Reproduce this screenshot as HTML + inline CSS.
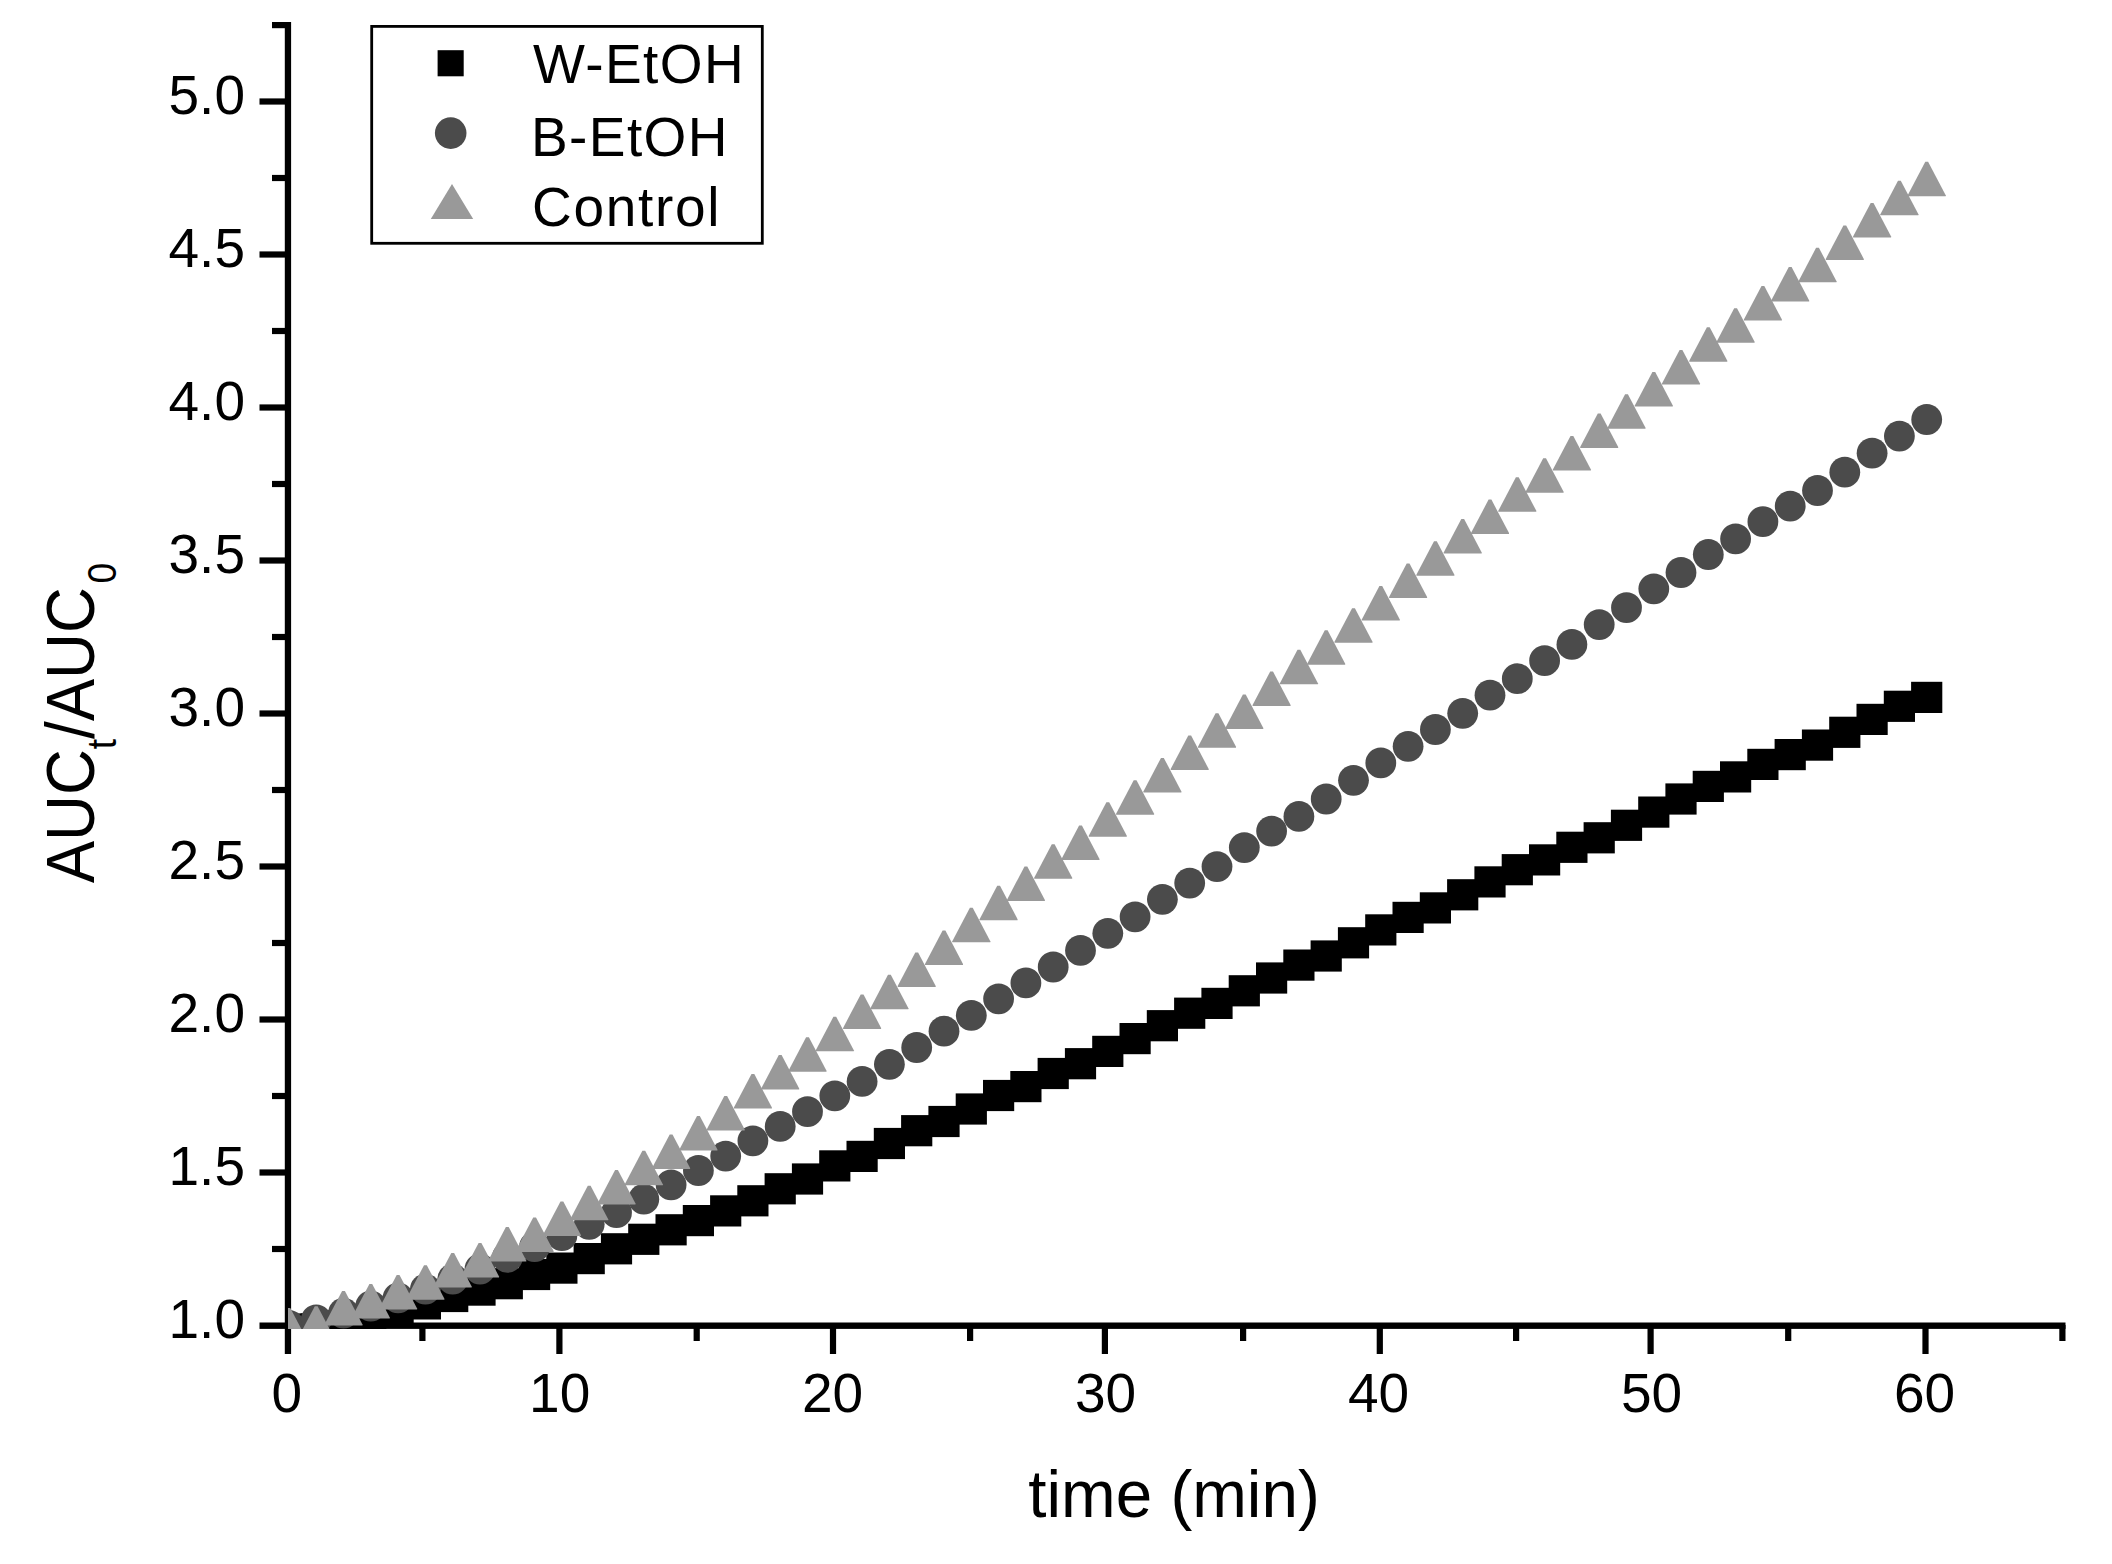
<!DOCTYPE html>
<html lang="en"><head><meta charset="utf-8"><title>AUC ratio vs time</title>
<style>html,body{margin:0;padding:0;background:#fff}body{width:2112px;height:1564px;overflow:hidden}svg{display:block}text{font-family:"Liberation Sans",Arial,sans-serif;fill:#000}</style>
</head><body>
<svg width="2112" height="1564" viewBox="0 0 2112 1564">
<rect width="2112" height="1564" fill="#fff"/>
<defs><clipPath id="plot"><rect x="287.9" y="0" width="1830" height="1329"/></clipPath></defs>
<g fill="#000">
<rect x="284.8" y="22" width="6.3" height="1332"/>
<rect x="259.5" y="1322.5" width="1806" height="6.4"/>
<rect x="259.5" y="1169.4" width="27" height="6.2"/>
<rect x="259.5" y="1016.4" width="27" height="6.2"/>
<rect x="259.5" y="863.4" width="27" height="6.2"/>
<rect x="259.5" y="710.4" width="27" height="6.2"/>
<rect x="259.5" y="557.4" width="27" height="6.2"/>
<rect x="259.5" y="404.4" width="27" height="6.2"/>
<rect x="259.5" y="251.4" width="27" height="6.2"/>
<rect x="259.5" y="98.4" width="27" height="6.2"/>
<rect x="272" y="1245.9" width="15" height="6.2"/>
<rect x="272" y="1092.9" width="15" height="6.2"/>
<rect x="272" y="939.9" width="15" height="6.2"/>
<rect x="272" y="786.9" width="15" height="6.2"/>
<rect x="272" y="633.9" width="15" height="6.2"/>
<rect x="272" y="480.9" width="15" height="6.2"/>
<rect x="272" y="327.9" width="15" height="6.2"/>
<rect x="272" y="174.9" width="15" height="6.2"/>
<rect x="272" y="22" width="15" height="6.2"/>
<rect x="556.3" y="1325" width="6.2" height="29"/>
<rect x="829.9" y="1325" width="6.2" height="29"/>
<rect x="1101.8" y="1325" width="6.2" height="29"/>
<rect x="1376.7" y="1325" width="6.2" height="29"/>
<rect x="1647.5" y="1325" width="6.2" height="29"/>
<rect x="1922.4" y="1325" width="6.2" height="29"/>
<rect x="419.3" y="1325" width="6.2" height="16"/>
<rect x="693.6" y="1325" width="6.2" height="16"/>
<rect x="967.0" y="1325" width="6.2" height="16"/>
<rect x="1240.0" y="1325" width="6.2" height="16"/>
<rect x="1513.0" y="1325" width="6.2" height="16"/>
<rect x="1785.1" y="1325" width="6.2" height="16"/>
<rect x="2059.3" y="1325" width="6.2" height="16"/>
</g>
<g clip-path="url(#plot)">
<g fill="#000">
<rect x="273.3" y="1313.4" width="31.2" height="31.2"/>
<rect x="300.6" y="1313.4" width="31.2" height="31.2"/>
<rect x="327.9" y="1310.3" width="31.2" height="31.2"/>
<rect x="355.2" y="1303.6" width="31.2" height="31.2"/>
<rect x="382.5" y="1295.6" width="31.2" height="31.2"/>
<rect x="409.8" y="1288.3" width="31.2" height="31.2"/>
<rect x="437.1" y="1280.9" width="31.2" height="31.2"/>
<rect x="464.4" y="1274.5" width="31.2" height="31.2"/>
<rect x="491.7" y="1268.1" width="31.2" height="31.2"/>
<rect x="519.0" y="1258.9" width="31.2" height="31.2"/>
<rect x="546.3" y="1252.5" width="31.2" height="31.2"/>
<rect x="573.6" y="1243.0" width="31.2" height="31.2"/>
<rect x="600.9" y="1233.2" width="31.2" height="31.2"/>
<rect x="628.2" y="1223.7" width="31.2" height="31.2"/>
<rect x="655.5" y="1214.2" width="31.2" height="31.2"/>
<rect x="682.8" y="1205.0" width="31.2" height="31.2"/>
<rect x="710.1" y="1195.3" width="31.2" height="31.2"/>
<rect x="737.3" y="1185.2" width="31.2" height="31.2"/>
<rect x="764.6" y="1173.2" width="31.2" height="31.2"/>
<rect x="791.9" y="1163.4" width="31.2" height="31.2"/>
<rect x="819.2" y="1150.3" width="31.2" height="31.2"/>
<rect x="846.5" y="1140.8" width="31.2" height="31.2"/>
<rect x="873.8" y="1127.9" width="31.2" height="31.2"/>
<rect x="901.1" y="1115.1" width="31.2" height="31.2"/>
<rect x="928.4" y="1105.9" width="31.2" height="31.2"/>
<rect x="955.7" y="1093.4" width="31.2" height="31.2"/>
<rect x="983.0" y="1079.9" width="31.2" height="31.2"/>
<rect x="1010.3" y="1071.0" width="31.2" height="31.2"/>
<rect x="1037.6" y="1057.9" width="31.2" height="31.2"/>
<rect x="1064.9" y="1048.1" width="31.2" height="31.2"/>
<rect x="1092.2" y="1035.8" width="31.2" height="31.2"/>
<rect x="1119.5" y="1023.0" width="31.2" height="31.2"/>
<rect x="1146.8" y="1010.1" width="31.2" height="31.2"/>
<rect x="1174.1" y="997.6" width="31.2" height="31.2"/>
<rect x="1201.4" y="987.8" width="31.2" height="31.2"/>
<rect x="1228.7" y="975.2" width="31.2" height="31.2"/>
<rect x="1256.0" y="962.4" width="31.2" height="31.2"/>
<rect x="1283.3" y="949.5" width="31.2" height="31.2"/>
<rect x="1310.6" y="940.4" width="31.2" height="31.2"/>
<rect x="1337.9" y="927.2" width="31.2" height="31.2"/>
<rect x="1365.2" y="914.3" width="31.2" height="31.2"/>
<rect x="1392.5" y="901.8" width="31.2" height="31.2"/>
<rect x="1419.8" y="892.3" width="31.2" height="31.2"/>
<rect x="1447.1" y="879.2" width="31.2" height="31.2"/>
<rect x="1474.4" y="866.3" width="31.2" height="31.2"/>
<rect x="1501.7" y="854.1" width="31.2" height="31.2"/>
<rect x="1529.0" y="844.3" width="31.2" height="31.2"/>
<rect x="1556.3" y="831.7" width="31.2" height="31.2"/>
<rect x="1583.6" y="822.2" width="31.2" height="31.2"/>
<rect x="1610.9" y="809.7" width="31.2" height="31.2"/>
<rect x="1638.2" y="796.5" width="31.2" height="31.2"/>
<rect x="1665.4" y="783.4" width="31.2" height="31.2"/>
<rect x="1692.7" y="770.8" width="31.2" height="31.2"/>
<rect x="1720.0" y="761.3" width="31.2" height="31.2"/>
<rect x="1747.3" y="748.8" width="31.2" height="31.2"/>
<rect x="1774.6" y="739.0" width="31.2" height="31.2"/>
<rect x="1801.9" y="729.5" width="31.2" height="31.2"/>
<rect x="1829.2" y="716.7" width="31.2" height="31.2"/>
<rect x="1856.5" y="703.8" width="31.2" height="31.2"/>
<rect x="1883.8" y="690.7" width="31.2" height="31.2"/>
<rect x="1911.1" y="681.8" width="31.2" height="31.2"/>
</g>
<g fill="#4b4b4b">
<circle cx="288.9" cy="1325.3" r="15.4"/>
<circle cx="316.2" cy="1319.8" r="15.4"/>
<circle cx="343.5" cy="1313.1" r="15.4"/>
<circle cx="370.8" cy="1306.0" r="15.4"/>
<circle cx="398.1" cy="1297.8" r="15.4"/>
<circle cx="425.4" cy="1289.2" r="15.4"/>
<circle cx="452.7" cy="1279.1" r="15.4"/>
<circle cx="480.0" cy="1269.0" r="15.4"/>
<circle cx="507.3" cy="1257.4" r="15.4"/>
<circle cx="534.6" cy="1246.7" r="15.4"/>
<circle cx="561.9" cy="1235.6" r="15.4"/>
<circle cx="589.2" cy="1224.3" r="15.4"/>
<circle cx="616.5" cy="1212.7" r="15.4"/>
<circle cx="643.8" cy="1199.2" r="15.4"/>
<circle cx="671.1" cy="1184.8" r="15.4"/>
<circle cx="698.4" cy="1170.5" r="15.4"/>
<circle cx="725.7" cy="1156.1" r="15.4"/>
<circle cx="752.9" cy="1140.8" r="15.4"/>
<circle cx="780.2" cy="1126.4" r="15.4"/>
<circle cx="807.5" cy="1111.7" r="15.4"/>
<circle cx="834.8" cy="1095.8" r="15.4"/>
<circle cx="862.1" cy="1081.4" r="15.4"/>
<circle cx="889.4" cy="1064.3" r="15.4"/>
<circle cx="916.7" cy="1047.5" r="15.4"/>
<circle cx="944.0" cy="1031.2" r="15.4"/>
<circle cx="971.3" cy="1015.3" r="15.4"/>
<circle cx="998.6" cy="998.8" r="15.4"/>
<circle cx="1025.9" cy="982.9" r="15.4"/>
<circle cx="1053.2" cy="967.0" r="15.4"/>
<circle cx="1080.5" cy="950.4" r="15.4"/>
<circle cx="1107.8" cy="933.3" r="15.4"/>
<circle cx="1135.1" cy="916.8" r="15.4"/>
<circle cx="1162.4" cy="899.3" r="15.4"/>
<circle cx="1189.7" cy="883.1" r="15.4"/>
<circle cx="1217.0" cy="866.6" r="15.4"/>
<circle cx="1244.3" cy="847.6" r="15.4"/>
<circle cx="1271.6" cy="831.1" r="15.4"/>
<circle cx="1298.9" cy="816.4" r="15.4"/>
<circle cx="1326.2" cy="799.0" r="15.4"/>
<circle cx="1353.5" cy="780.3" r="15.4"/>
<circle cx="1380.8" cy="762.9" r="15.4"/>
<circle cx="1408.1" cy="746.3" r="15.4"/>
<circle cx="1435.4" cy="729.5" r="15.4"/>
<circle cx="1462.7" cy="713.3" r="15.4"/>
<circle cx="1490.0" cy="695.2" r="15.4"/>
<circle cx="1517.3" cy="678.7" r="15.4"/>
<circle cx="1544.6" cy="660.7" r="15.4"/>
<circle cx="1571.9" cy="644.4" r="15.4"/>
<circle cx="1599.2" cy="624.6" r="15.4"/>
<circle cx="1626.5" cy="607.7" r="15.4"/>
<circle cx="1653.8" cy="588.8" r="15.4"/>
<circle cx="1681.0" cy="572.5" r="15.4"/>
<circle cx="1708.3" cy="554.5" r="15.4"/>
<circle cx="1735.6" cy="538.9" r="15.4"/>
<circle cx="1762.9" cy="521.7" r="15.4"/>
<circle cx="1790.2" cy="506.1" r="15.4"/>
<circle cx="1817.5" cy="490.5" r="15.4"/>
<circle cx="1844.8" cy="472.2" r="15.4"/>
<circle cx="1872.1" cy="453.2" r="15.4"/>
<circle cx="1899.4" cy="436.1" r="15.4"/>
<circle cx="1926.7" cy="419.5" r="15.4"/>
</g>
<g fill="#999">
<polygon points="287.5,1308.0 290.3,1308.0 307.9,1341.5 307.9,1342.5 269.9,1342.5 269.9,1341.5"/>
<polygon points="314.8,1306.2 317.6,1306.2 335.2,1339.7 335.2,1340.7 297.2,1340.7 297.2,1339.7"/>
<polygon points="342.1,1290.9 344.9,1290.9 362.5,1324.4 362.5,1325.4 324.5,1325.4 324.5,1324.4"/>
<polygon points="369.4,1283.9 372.2,1283.9 389.8,1317.4 389.8,1318.4 351.8,1318.4 351.8,1317.4"/>
<polygon points="396.7,1275.0 399.5,1275.0 417.1,1308.5 417.1,1309.5 379.1,1309.5 379.1,1308.5"/>
<polygon points="424.0,1265.2 426.8,1265.2 444.4,1298.7 444.4,1299.7 406.4,1299.7 406.4,1298.7"/>
<polygon points="451.3,1253.0 454.1,1253.0 471.7,1286.5 471.7,1287.5 433.7,1287.5 433.7,1286.5"/>
<polygon points="478.6,1242.9 481.4,1242.9 499.0,1276.4 499.0,1277.4 461.0,1277.4 461.0,1276.4"/>
<polygon points="505.9,1227.0 508.7,1227.0 526.3,1260.5 526.3,1261.5 488.3,1261.5 488.3,1260.5"/>
<polygon points="533.2,1217.5 536.0,1217.5 553.6,1251.0 553.6,1252.0 515.6,1252.0 515.6,1251.0"/>
<polygon points="560.5,1201.6 563.3,1201.6 580.9,1235.1 580.9,1236.1 542.9,1236.1 542.9,1235.1"/>
<polygon points="587.8,1185.7 590.6,1185.7 608.2,1219.2 608.2,1220.2 570.2,1220.2 570.2,1219.2"/>
<polygon points="615.1,1170.0 617.9,1170.0 635.5,1203.5 635.5,1204.5 597.5,1204.5 597.5,1203.5"/>
<polygon points="642.4,1150.8 645.2,1150.8 662.8,1184.3 662.8,1185.3 624.8,1185.3 624.8,1184.3"/>
<polygon points="669.7,1134.5 672.5,1134.5 690.1,1168.0 690.1,1169.0 652.1,1169.0 652.1,1168.0"/>
<polygon points="697.0,1115.9 699.8,1115.9 717.4,1149.4 717.4,1150.4 679.4,1150.4 679.4,1149.4"/>
<polygon points="724.3,1096.0 727.1,1096.0 744.7,1129.5 744.7,1130.5 706.7,1130.5 706.7,1129.5"/>
<polygon points="751.5,1074.0 754.3,1074.0 771.9,1107.5 771.9,1108.5 733.9,1108.5 733.9,1107.5"/>
<polygon points="778.8,1055.0 781.6,1055.0 799.2,1088.5 799.2,1089.5 761.2,1089.5 761.2,1088.5"/>
<polygon points="806.1,1037.2 808.9,1037.2 826.5,1070.7 826.5,1071.7 788.5,1071.7 788.5,1070.7"/>
<polygon points="833.4,1016.7 836.2,1016.7 853.8,1050.2 853.8,1051.2 815.8,1051.2 815.8,1050.2"/>
<polygon points="860.7,994.4 863.5,994.4 881.1,1027.9 881.1,1028.9 843.1,1028.9 843.1,1027.9"/>
<polygon points="888.0,974.8 890.8,974.8 908.4,1008.3 908.4,1009.3 870.4,1009.3 870.4,1008.3"/>
<polygon points="915.3,952.5 918.1,952.5 935.7,986.0 935.7,987.0 897.7,987.0 897.7,986.0"/>
<polygon points="942.6,930.4 945.4,930.4 963.0,963.9 963.0,964.9 925.0,964.9 925.0,963.9"/>
<polygon points="969.9,907.8 972.7,907.8 990.3,941.3 990.3,942.3 952.3,942.3 952.3,941.3"/>
<polygon points="997.2,885.8 1000.0,885.8 1017.6,919.3 1017.6,920.3 979.6,920.3 979.6,919.3"/>
<polygon points="1024.5,866.5 1027.3,866.5 1044.9,900.0 1044.9,901.0 1006.9,901.0 1006.9,900.0"/>
<polygon points="1051.8,844.2 1054.6,844.2 1072.2,877.7 1072.2,878.7 1034.2,878.7 1034.2,877.7"/>
<polygon points="1079.1,825.5 1081.9,825.5 1099.5,859.0 1099.5,860.0 1061.5,860.0 1061.5,859.0"/>
<polygon points="1106.4,802.2 1109.2,802.2 1126.8,835.7 1126.8,836.7 1088.8,836.7 1088.8,835.7"/>
<polygon points="1133.7,780.2 1136.5,780.2 1154.1,813.7 1154.1,814.7 1116.1,814.7 1116.1,813.7"/>
<polygon points="1161.0,757.9 1163.8,757.9 1181.4,791.4 1181.4,792.4 1143.4,792.4 1143.4,791.4"/>
<polygon points="1188.3,735.5 1191.1,735.5 1208.7,769.0 1208.7,770.0 1170.7,770.0 1170.7,769.0"/>
<polygon points="1215.6,713.2 1218.4,713.2 1236.0,746.7 1236.0,747.7 1198.0,747.7 1198.0,746.7"/>
<polygon points="1242.9,694.5 1245.7,694.5 1263.3,728.0 1263.3,729.0 1225.3,729.0 1225.3,728.0"/>
<polygon points="1270.2,671.6 1273.0,671.6 1290.6,705.1 1290.6,706.1 1252.6,706.1 1252.6,705.1"/>
<polygon points="1297.5,649.8 1300.3,649.8 1317.9,683.3 1317.9,684.3 1279.9,684.3 1279.9,683.3"/>
<polygon points="1324.8,630.3 1327.6,630.3 1345.2,663.8 1345.2,664.8 1307.2,664.8 1307.2,663.8"/>
<polygon points="1352.1,608.2 1354.9,608.2 1372.5,641.7 1372.5,642.7 1334.5,642.7 1334.5,641.7"/>
<polygon points="1379.4,585.9 1382.2,585.9 1399.8,619.4 1399.8,620.4 1361.8,620.4 1361.8,619.4"/>
<polygon points="1406.7,563.6 1409.5,563.6 1427.1,597.1 1427.1,598.1 1389.1,598.1 1389.1,597.1"/>
<polygon points="1434.0,541.2 1436.8,541.2 1454.4,574.7 1454.4,575.7 1416.4,575.7 1416.4,574.7"/>
<polygon points="1461.3,518.9 1464.1,518.9 1481.7,552.4 1481.7,553.4 1443.7,553.4 1443.7,552.4"/>
<polygon points="1488.6,499.6 1491.4,499.6 1509.0,533.1 1509.0,534.1 1471.0,534.1 1471.0,533.1"/>
<polygon points="1515.9,477.3 1518.7,477.3 1536.3,510.8 1536.3,511.8 1498.3,511.8 1498.3,510.8"/>
<polygon points="1543.2,458.3 1546.0,458.3 1563.6,491.8 1563.6,492.8 1525.6,492.8 1525.6,491.8"/>
<polygon points="1570.5,435.9 1573.3,435.9 1590.9,469.4 1590.9,470.4 1552.9,470.4 1552.9,469.4"/>
<polygon points="1597.8,413.6 1600.6,413.6 1618.2,447.1 1618.2,448.1 1580.2,448.1 1580.2,447.1"/>
<polygon points="1625.1,394.3 1627.9,394.3 1645.5,427.8 1645.5,428.8 1607.5,428.8 1607.5,427.8"/>
<polygon points="1652.4,372.0 1655.2,372.0 1672.8,405.5 1672.8,406.5 1634.8,406.5 1634.8,405.5"/>
<polygon points="1679.6,350.0 1682.4,350.0 1700.0,383.5 1700.0,384.5 1662.0,384.5 1662.0,383.5"/>
<polygon points="1706.9,327.3 1709.7,327.3 1727.3,360.8 1727.3,361.8 1689.3,361.8 1689.3,360.8"/>
<polygon points="1734.2,308.3 1737.0,308.3 1754.6,341.8 1754.6,342.8 1716.6,342.8 1716.6,341.8"/>
<polygon points="1761.5,286.0 1764.3,286.0 1781.9,319.5 1781.9,320.5 1743.9,320.5 1743.9,319.5"/>
<polygon points="1788.8,267.0 1791.6,267.0 1809.2,300.5 1809.2,301.5 1771.2,301.5 1771.2,300.5"/>
<polygon points="1816.1,247.8 1818.9,247.8 1836.5,281.3 1836.5,282.3 1798.5,282.3 1798.5,281.3"/>
<polygon points="1843.4,225.4 1846.2,225.4 1863.8,258.9 1863.8,259.9 1825.8,259.9 1825.8,258.9"/>
<polygon points="1870.7,203.1 1873.5,203.1 1891.1,236.6 1891.1,237.6 1853.1,237.6 1853.1,236.6"/>
<polygon points="1898.0,180.7 1900.8,180.7 1918.4,214.2 1918.4,215.2 1880.4,215.2 1880.4,214.2"/>
<polygon points="1925.3,161.8 1928.1,161.8 1945.7,195.3 1945.7,196.3 1907.7,196.3 1907.7,195.3"/>
</g>
</g>
<rect x="371.7" y="26.4" width="390.6" height="216.9" fill="#fff" stroke="#000" stroke-width="2.8"/>
<rect x="437.6" y="50.2" width="26.1" height="26.1" fill="#000"/>
<circle cx="450.7" cy="133.1" r="15.8" fill="#4b4b4b"/>
<polygon points="452,184 473.2,219 430.8,219" fill="#999"/>
<text id="l1" x="533" y="82.5" font-size="55" letter-spacing="1.4">W-EtOH</text>
<text id="l2" x="531" y="155.5" font-size="55" letter-spacing="1.4">B-EtOH</text>
<text id="l3" x="532" y="225.5" font-size="55" letter-spacing="1.7">Control</text>
<text class="yl" x="245" y="1338.3" font-size="55" text-anchor="end">1.0</text>
<text class="yl" x="245" y="1185.3" font-size="55" text-anchor="end">1.5</text>
<text class="yl" x="245" y="1032.3" font-size="55" text-anchor="end">2.0</text>
<text class="yl" x="245" y="879.3" font-size="55" text-anchor="end">2.5</text>
<text class="yl" x="245" y="726.3" font-size="55" text-anchor="end">3.0</text>
<text class="yl" x="245" y="573.3" font-size="55" text-anchor="end">3.5</text>
<text class="yl" x="245" y="420.3" font-size="55" text-anchor="end">4.0</text>
<text class="yl" x="245" y="267.3" font-size="55" text-anchor="end">4.5</text>
<text class="yl" x="245" y="114.3" font-size="55" text-anchor="end">5.0</text>
<text class="xl" x="286.7" y="1412" font-size="55" text-anchor="middle">0</text>
<text class="xl" x="559.7" y="1412" font-size="55" text-anchor="middle">10</text>
<text class="xl" x="832.6" y="1412" font-size="55" text-anchor="middle">20</text>
<text class="xl" x="1105.6" y="1412" font-size="55" text-anchor="middle">30</text>
<text class="xl" x="1378.6" y="1412" font-size="55" text-anchor="middle">40</text>
<text class="xl" x="1651.6" y="1412" font-size="55" text-anchor="middle">50</text>
<text class="xl" x="1924.5" y="1412" font-size="55" text-anchor="middle">60</text>
<text id="xt" transform="translate(1174,1517) scale(0.972,1)" font-size="67.5" text-anchor="middle">time (min)</text>
<text id="yt" transform="translate(93.8,883.3) rotate(-90) scale(0.93,1)" font-size="68.3">AUC<tspan font-size="40" dy="22">t</tspan><tspan dy="-22">/AUC</tspan><tspan font-size="40" dy="22" dx="4">0</tspan></text>
</svg>
</body></html>
